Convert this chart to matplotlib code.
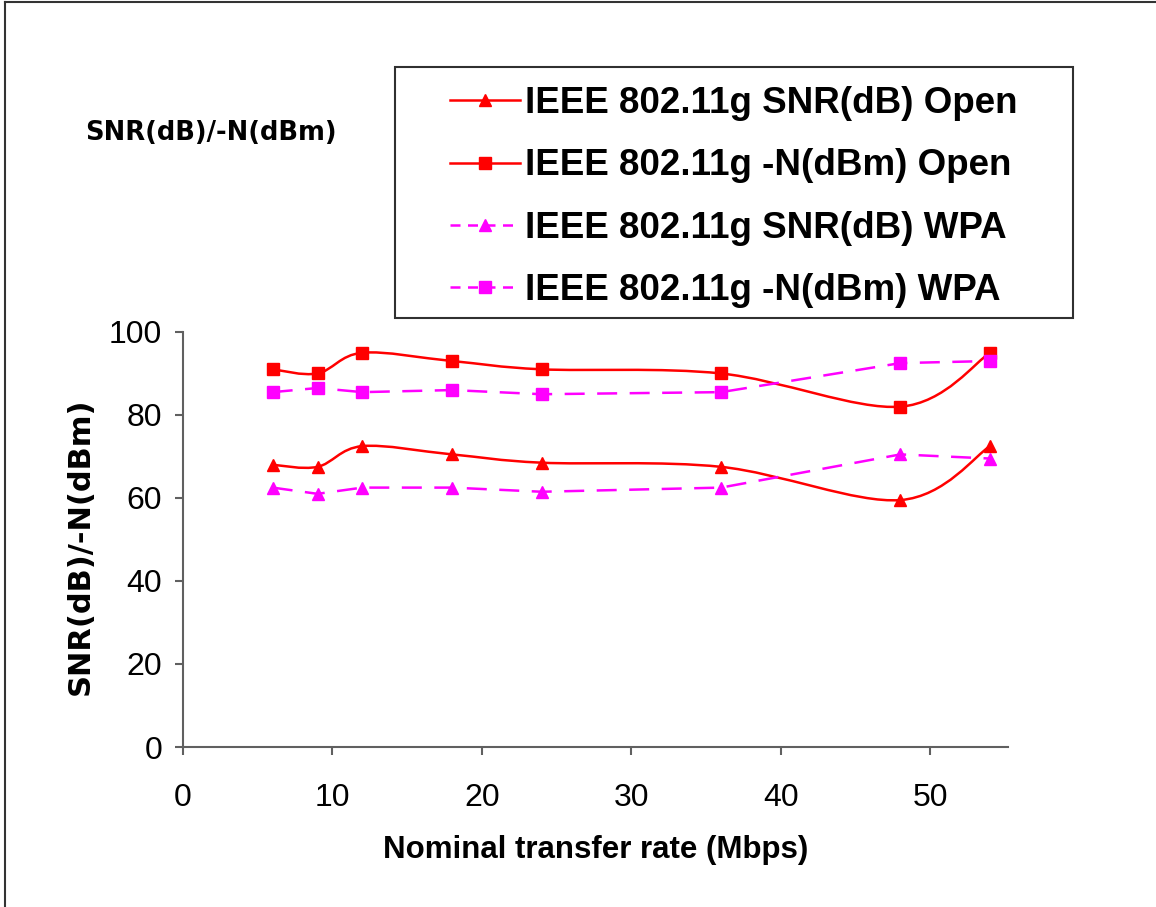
import numpy as np
import matplotlib
matplotlib.use("Agg")
import matplotlib.pyplot as plt
from matplotlib.path import Path
from matplotlib.patches import PathPatch, Rectangle
from matplotlib.lines import Line2D

# data
rate = [6, 9, 12, 18, 24, 36, 48, 54]
snr_open = [68, 67.5, 72.5, 70.5, 68.5, 67.5, 59.5, 72.5]
noise_open = [91, 90, 95, 93, 91, 90, 82, 95]
snr_wpa = [62.5, 61, 62.5, 62.5, 61.5, 62.5, 70.5, 69.5]
noise_wpa = [85.5, 86.5, 85.5, 86, 85, 85.5, 92.5, 93]

labels = ['IEEE 802.11g SNR(dB) Open', 'IEEE 802.11g -N(dBm) Open',
          'IEEE 802.11g SNR(dB) WPA', 'IEEE 802.11g -N(dBm) WPA']

narrow = ['Liberation Sans Narrow', 'Liberation Sans', 'DejaVu Sans']
RED = '#ff0000'
MAG = '#ff00ff'


def smooth_path(x, y):
    # excel style smoothed line: catmull-rom segments as cubic beziers
    p = np.column_stack([x, y]).astype(float)
    pts = [p[0]]
    codes = [Path.MOVETO]
    n = len(p)
    for i in range(n - 1):
        p0 = p[i - 1] if i > 0 else p[i]
        p1, p2 = p[i], p[i + 1]
        p3 = p[i + 2] if i + 2 < n else p[i + 1]
        pts += [p1 + (p2 - p0) / 6, p2 - (p3 - p1) / 6, p2]
        codes += [Path.CURVE4] * 3
    return Path(pts, codes)


fig = plt.figure(figsize=(11.56, 9.07), dpi=100)
ax = fig.add_axes([0.1583, 0.1764, 0.872 - 0.1583, 0.634 - 0.1764])

for yv in (snr_open, noise_open):
    ax.add_patch(PathPatch(smooth_path(rate, yv), fill=False, edgecolor=RED, lw=1.8))
for yv in (snr_wpa, noise_wpa):
    ax.plot(rate, yv, color=MAG, lw=1.8, dashes=(8, 5))

ax.plot(rate, snr_open, ls='none', marker='^', ms=8, color=RED)
ax.plot(rate, noise_open, ls='none', marker='s', ms=9, color=RED)
ax.plot(rate, snr_wpa, ls='none', marker='^', ms=8, color=MAG)
ax.plot(rate, noise_wpa, ls='none', marker='s', ms=8, color=MAG)

ax.set_xlim(0, 55.2)
ax.set_ylim(0, 100)
ax.set_xticks(range(0, 51, 10))
ax.set_yticks(range(0, 101, 20))
for s in ('top', 'right'):
    ax.spines[s].set_visible(False)
for s in ('left', 'bottom'):
    ax.spines[s].set_color('#606060')
    ax.spines[s].set_linewidth(1.5)
ax.tick_params(axis='both', direction='out', length=6, width=1.5, color='#606060')
ax.tick_params(axis='y', pad=9)
ax.tick_params(axis='x', pad=20)
for t in ax.get_xticklabels() + ax.get_yticklabels():
    t.set_family(narrow)
    t.set_fontsize(23)

ax.set_xlabel('Nominal transfer rate (Mbps)', family=narrow, fontsize=22.5,
              fontweight='bold', labelpad=16)
fig.text(80 / 1156, 1 - 546 / 907, 'SNR(dB)/-N(dBm)', rotation=90, ha='center',
         va='center', family='DejaVu Sans', fontweight='bold', fontsize=22)
fig.text(85 / 1156, 1 - 133 / 907, 'SNR(dB)/-N(dBm)', ha='left', va='center',
         family='DejaVu Sans', fontweight='bold', fontsize=18.5)

handles = [
    Line2D([], [], color=RED, lw=1.8, marker='^', ms=8),
    Line2D([], [], color=RED, lw=1.8, marker='s', ms=8),
    Line2D([], [], color=MAG, lw=1.8, marker='^', ms=8, dashes=(4, 3)),
    Line2D([], [], color=MAG, lw=1.8, marker='s', ms=8, dashes=(4, 3)),
]
fig.legend(handles, labels, loc='center', bbox_to_anchor=(734 / 1156, 1 - 197 / 907),
           frameon=False, prop={'family': narrow, 'weight': 'bold', 'size': 26.5},
           handlelength=1.9, handletextpad=0.15, labelspacing=0.74)
fig.add_artist(Rectangle((395 / 1156, 1 - 318 / 907), (1073 - 395) / 1156, (318 - 67) / 907,
                         transform=fig.transFigure, fill=False, edgecolor='#303030', lw=1.5))

# outer frame (top and left edges only)
fig.add_artist(Line2D([5 / 1156, 1], [1 - 1.5 / 907, 1 - 1.5 / 907],
                      transform=fig.transFigure, color='#333333', lw=1.5))
fig.add_artist(Line2D([5 / 1156, 5 / 1156], [0, 1 - 1.5 / 907],
                      transform=fig.transFigure, color='#333333', lw=1.5))

fig.savefig('out.png', dpi=100)
